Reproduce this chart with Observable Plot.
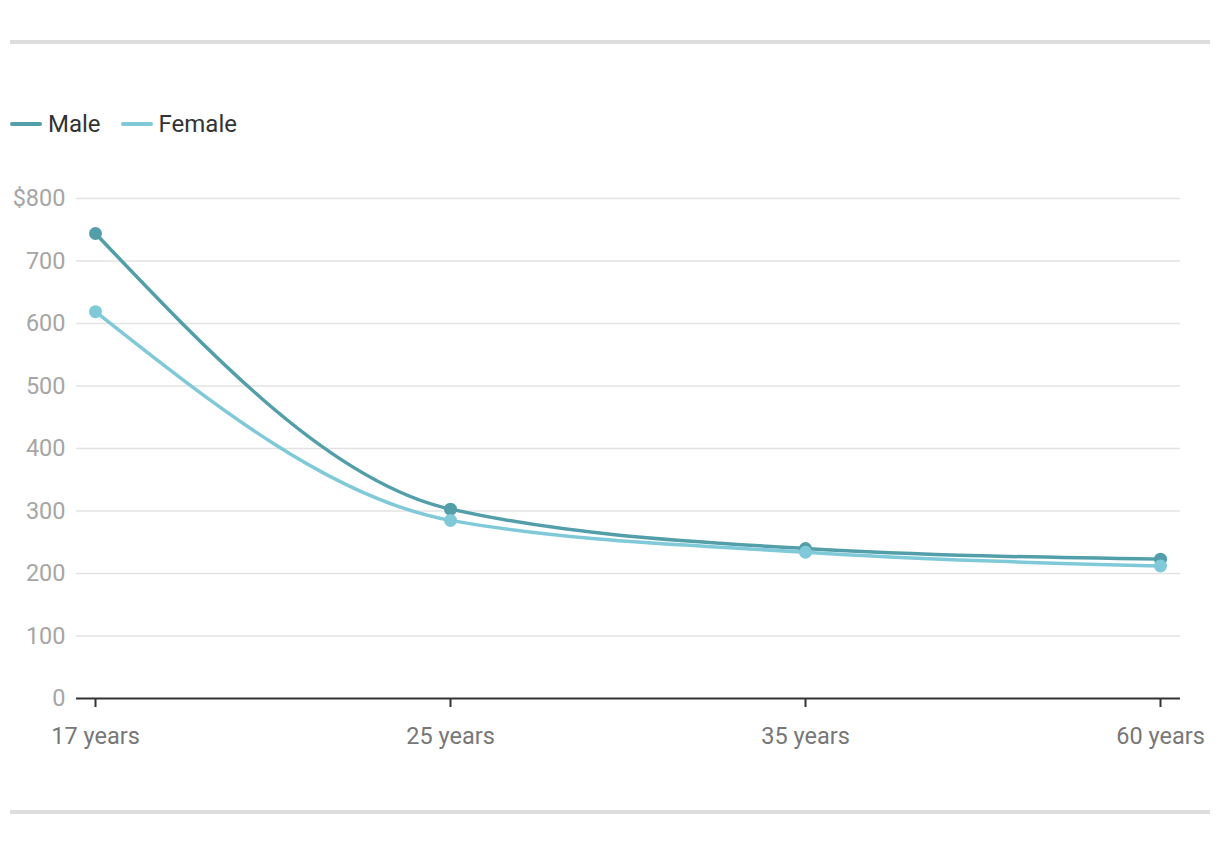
<!DOCTYPE html>
<html>
<head>
<meta charset="utf-8">
<script src="https://cdn.jsdelivr.net/npm/d3@7"></script>
<script src="https://cdn.jsdelivr.net/npm/@observablehq/plot@0.6"></script>
<style>
  html, body { margin: 0; padding: 0; background: #fff; width: 1220px; height: 844px; overflow: hidden; font-family: Roboto, "Noto Sans", sans-serif; }
  .rule { position: absolute; left: 10px; width: 1200px; height: 4px; background: #dddddd; }
  #legend { position: absolute; top: 110px; left: 10px; display: flex; align-items: center; font-size: 24px; color: #333; }
  .item { display: flex; align-items: center; margin-right: 20px; }
  .sw { width: 32px; height: 4px; border-radius: 2px; margin-right: 6px; }
  #chart { position: absolute; top: 170px; left: 0; }
</style>
</head>
<body>
<div class="rule" style="top:40px"></div>
<div id="legend"></div>
<div id="chart"></div>
<div class="rule" style="top:810px"></div>
<script>
const ages = ["17 years", "25 years", "35 years", "60 years"];
const seriesNames = ["Male", "Female"];
const maleValues = [744, 303, 240, 223];
const femaleValues = [619, 285, 234, 212];
const seriesColors = ["#529ea9", "#7fc9d8"];
const yTicks = [0, 100, 200, 300, 400, 500, 600, 700, 800];

const data = [];
ages.forEach((a, i) => {
  data.push({age: a, series: "Male", value: maleValues[i]});
  data.push({age: a, series: "Female", value: femaleValues[i]});
});

const legend = document.getElementById("legend");
seriesNames.forEach((s, i) => {
  const it = document.createElement("div");
  it.className = "item";
  it.innerHTML = `<span class="sw" style="background:${seriesColors[i]}"></span><span>${s}</span>`;
  legend.appendChild(it);
});

const chart = Plot.plot({
  width: 1220,
  height: 590,
  marginTop: 28,
  marginBottom: 62,
  marginLeft: 76,
  marginRight: 40,
  style: {fontFamily: "Roboto, 'Noto Sans', sans-serif", fontSize: "23.5px", background: "transparent"},
  x: {type: "point", domain: ages, range: [95, 1160], padding: 0, label: null},
  y: {domain: [0, 800], label: null},
  color: {domain: seriesNames, range: seriesColors},
  marks: [
    Plot.ruleY(yTicks.filter(d => d > 0), {stroke: "#e3e3e3", strokeWidth: 1.5}),
    Plot.axisY({ticks: yTicks, tickSize: 0, tickPadding: 11, tickFormat: d => d === 800 ? "$800" : String(d), fill: "#a6a6a6", fontSize: 23.5}),
    Plot.axisX({tickSize: 9, tickPadding: 20, stroke: "#333", strokeWidth: 2, fill: "#777", fontSize: 23.5}),
    Plot.ruleY([0], {stroke: "#333", strokeWidth: 2}),
    Plot.line(data, {x: "age", y: "value", z: "series", stroke: "series", strokeWidth: 3.5, curve: "monotone-x"}),
    Plot.dot(data, {x: "age", y: "value", fill: "series", r: 6.5})
  ]
});
document.getElementById("chart").appendChild(chart);
</script>
</body>
</html>
